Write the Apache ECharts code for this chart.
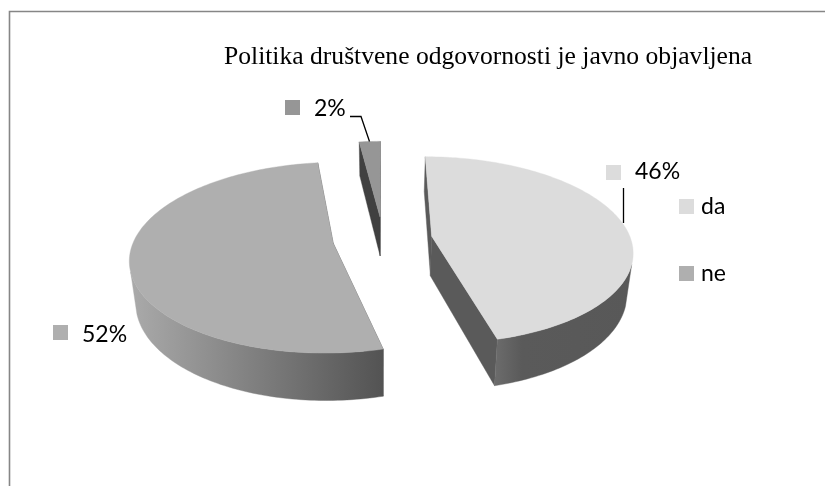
<!DOCTYPE html>
<html>
<head>
<meta charset="utf-8">
<style>html,body{margin:0;padding:0;background:#fff}#c{width:825px;height:486px}</style>
<script src="https://cdn.jsdelivr.net/npm/echarts@6/dist/echarts.min.js"></script>
</head>
<body>
<div id="c"></div>
<script>
// Data
const titleText = 'Politika društvene odgovornosti je javno objavljena';
const sliceNames = ['da', 'ne', 'ostalo'];
const sliceValues = [46, 52, 2];
const legendNames = ['da', 'ne'];

// Style and layout
const topColors = ['#dcdcdc', '#afafaf', '#969696'];
const radialWallColors = ['#5a5a5a', '#555555', '#404040'];
const outerWallStops = [
  [[0, '#6c6c6c'], [0.2, '#5a5a5a'], [1, '#585858']],
  [[0, '#aaaaaa'], [1, '#535353']],
  [[0, '#404040'], [1, '#404040']]
];
const explodeFactors = [0.25, 0.25, 0.2];
const liftPixels = [4, 4, 0];
const labelLayout = [
  { key: [606, 165], text: [635, 172] },
  { key: [53, 325], text: [82, 335] },
  { key: [285, 100], text: [314, 109] }
];
const leaderLines = [
  [[623.5, 188], [623.5, 223]],
  [],
  [[350, 116.5], [361, 116.5], [369.5, 141.5]]
];
const pie = { x0: 382.5, cy: 235, rx: 199, ry: 92, k: 0.149, depth: 40, bottomScale: 0.975, wallFrom: 0.29 };
const total = sliceValues.reduce((a, b) => a + b, 0);

function sliceAngles(i) {
  let sum = 0;
  for (let j = 0; j < i; j++) sum += sliceValues[j];
  return [sum / total * 2 * Math.PI, (sum + sliceValues[i]) / total * 2 * Math.PI];
}

// Project a point of the unit pie plane through a simple perspective
function project(u, v, lift, h) {
  const s = 1 / (1 - pie.k * v);
  const shrink = h > 0 ? pie.bottomScale : 1;
  return [
    pie.x0 + pie.rx * u * s * shrink,
    pie.cy + lift + pie.ry * v * s + h * s
  ];
}

function buildSlice(i) {
  const [a0, a1] = sliceAngles(i);
  const mid = (a0 + a1) / 2;
  const e = explodeFactors[i];
  const cu = e * Math.sin(mid), cv = -e * Math.cos(mid);
  const lift = liftPixels[i];
  const steps = Math.max(4, Math.round((a1 - a0) / 0.02));
  const rimTop = [], rimBottom = [], front = [];
  for (let n = 0; n <= steps; n++) {
    const a = a0 + (a1 - a0) * n / steps;
    const u = cu + Math.sin(a), v = cv - Math.cos(a);
    const t = project(u, v, lift, 0), b = project(u, v, lift, pie.depth);
    rimTop.push(t);
    rimBottom.push(b);
    if (-Math.cos(a) > pie.wallFrom) front.push([t, b]);
  }
  const apexTop = project(cu, cv, lift, 0);
  const apexBottom = project(cu, cv, lift, pie.depth);
  const children = [];
  const poly = (points, fill) => ({
    type: 'polygon',
    shape: { points },
    style: { fill, stroke: fill, lineWidth: 0.4 }
  });
  // radial walls first
  children.push(poly([apexTop, rimTop[0], rimBottom[0], apexBottom], radialWallColors[i]));
  children.push(poly([apexTop, rimTop[steps], rimBottom[steps], apexBottom], radialWallColors[i]));
  // outer wall
  if (front.length > 1) {
    const pts = front.map(p => p[0]).concat(front.map(p => p[1]).reverse());
    const xs = pts.map(p => p[0]);
    const minX = Math.min(...xs), maxX = Math.max(...xs);
    const stops = outerWallStops[i].map(s => ({ offset: s[0], color: s[1] }));
    const grad = new echarts.graphic.LinearGradient(minX, 0, maxX, 0, stops, true);
    children.push(poly(pts, grad));
  }
  // top face
  children.push(poly([apexTop].concat(rimTop), topColors[i]));
  // leader line
  if (leaderLines[i].length) {
    children.push({
      type: 'polyline',
      shape: { points: leaderLines[i] },
      style: { stroke: '#000', lineWidth: 1.3, fill: null }
    });
  }
  // data label: key + percentage
  const l = labelLayout[i];
  children.push({
    type: 'rect',
    shape: { x: l.key[0], y: l.key[1], width: 15, height: 15 },
    style: { fill: topColors[i] }
  });
  children.push({
    type: 'text',
    style: {
      x: l.text[0], y: l.text[1],
      text: Math.round(sliceValues[i] / total * 100) + '%',
      fill: '#000',
      font: '23px Lato',
      verticalAlign: 'middle',
      textAlign: 'left'
    }
  });
  return { type: 'group', children };
}

// Back-to-front drawing order
const drawOrder = [2, 1, 0];

const chart = echarts.init(document.getElementById('c'), null, { renderer: 'canvas' });
chart.setOption({
  animation: false,
  backgroundColor: '#ffffff',
  title: {
    text: titleText,
    left: 224,
    top: 44,
    padding: 0,
    textStyle: { fontFamily: 'Liberation Serif', fontSize: 25.6, fontWeight: 'normal', color: '#000' }
  },
  legend: {
    data: legendNames,
    orient: 'vertical',
    left: 679,
    top: 195,
    padding: 0,
    itemWidth: 15,
    itemHeight: 15,
    itemGap: 44,
    icon: 'rect',
    selectedMode: false,
    textStyle: { fontFamily: 'Lato', fontSize: 23, lineHeight: 23, color: '#000', padding: [0, 0, 0, 2] }
  },
  graphic: [
    { type: 'polyline', shape: { points: [[9.5, 486], [9.5, 11.5], [825, 11.5]] }, style: { stroke: '#868686', lineWidth: 1.6, fill: null }, silent: true }
  ],
  series: drawOrder.map((i, z) => ({
    type: 'custom',
    name: sliceNames[i],
    coordinateSystem: 'none',
    silent: true,
    z: z + 2,
    itemStyle: { color: topColors[i] },
    data: [sliceValues[i]],
    renderItem: () => buildSlice(i)
  }))
});
</script>
</body>
</html>
